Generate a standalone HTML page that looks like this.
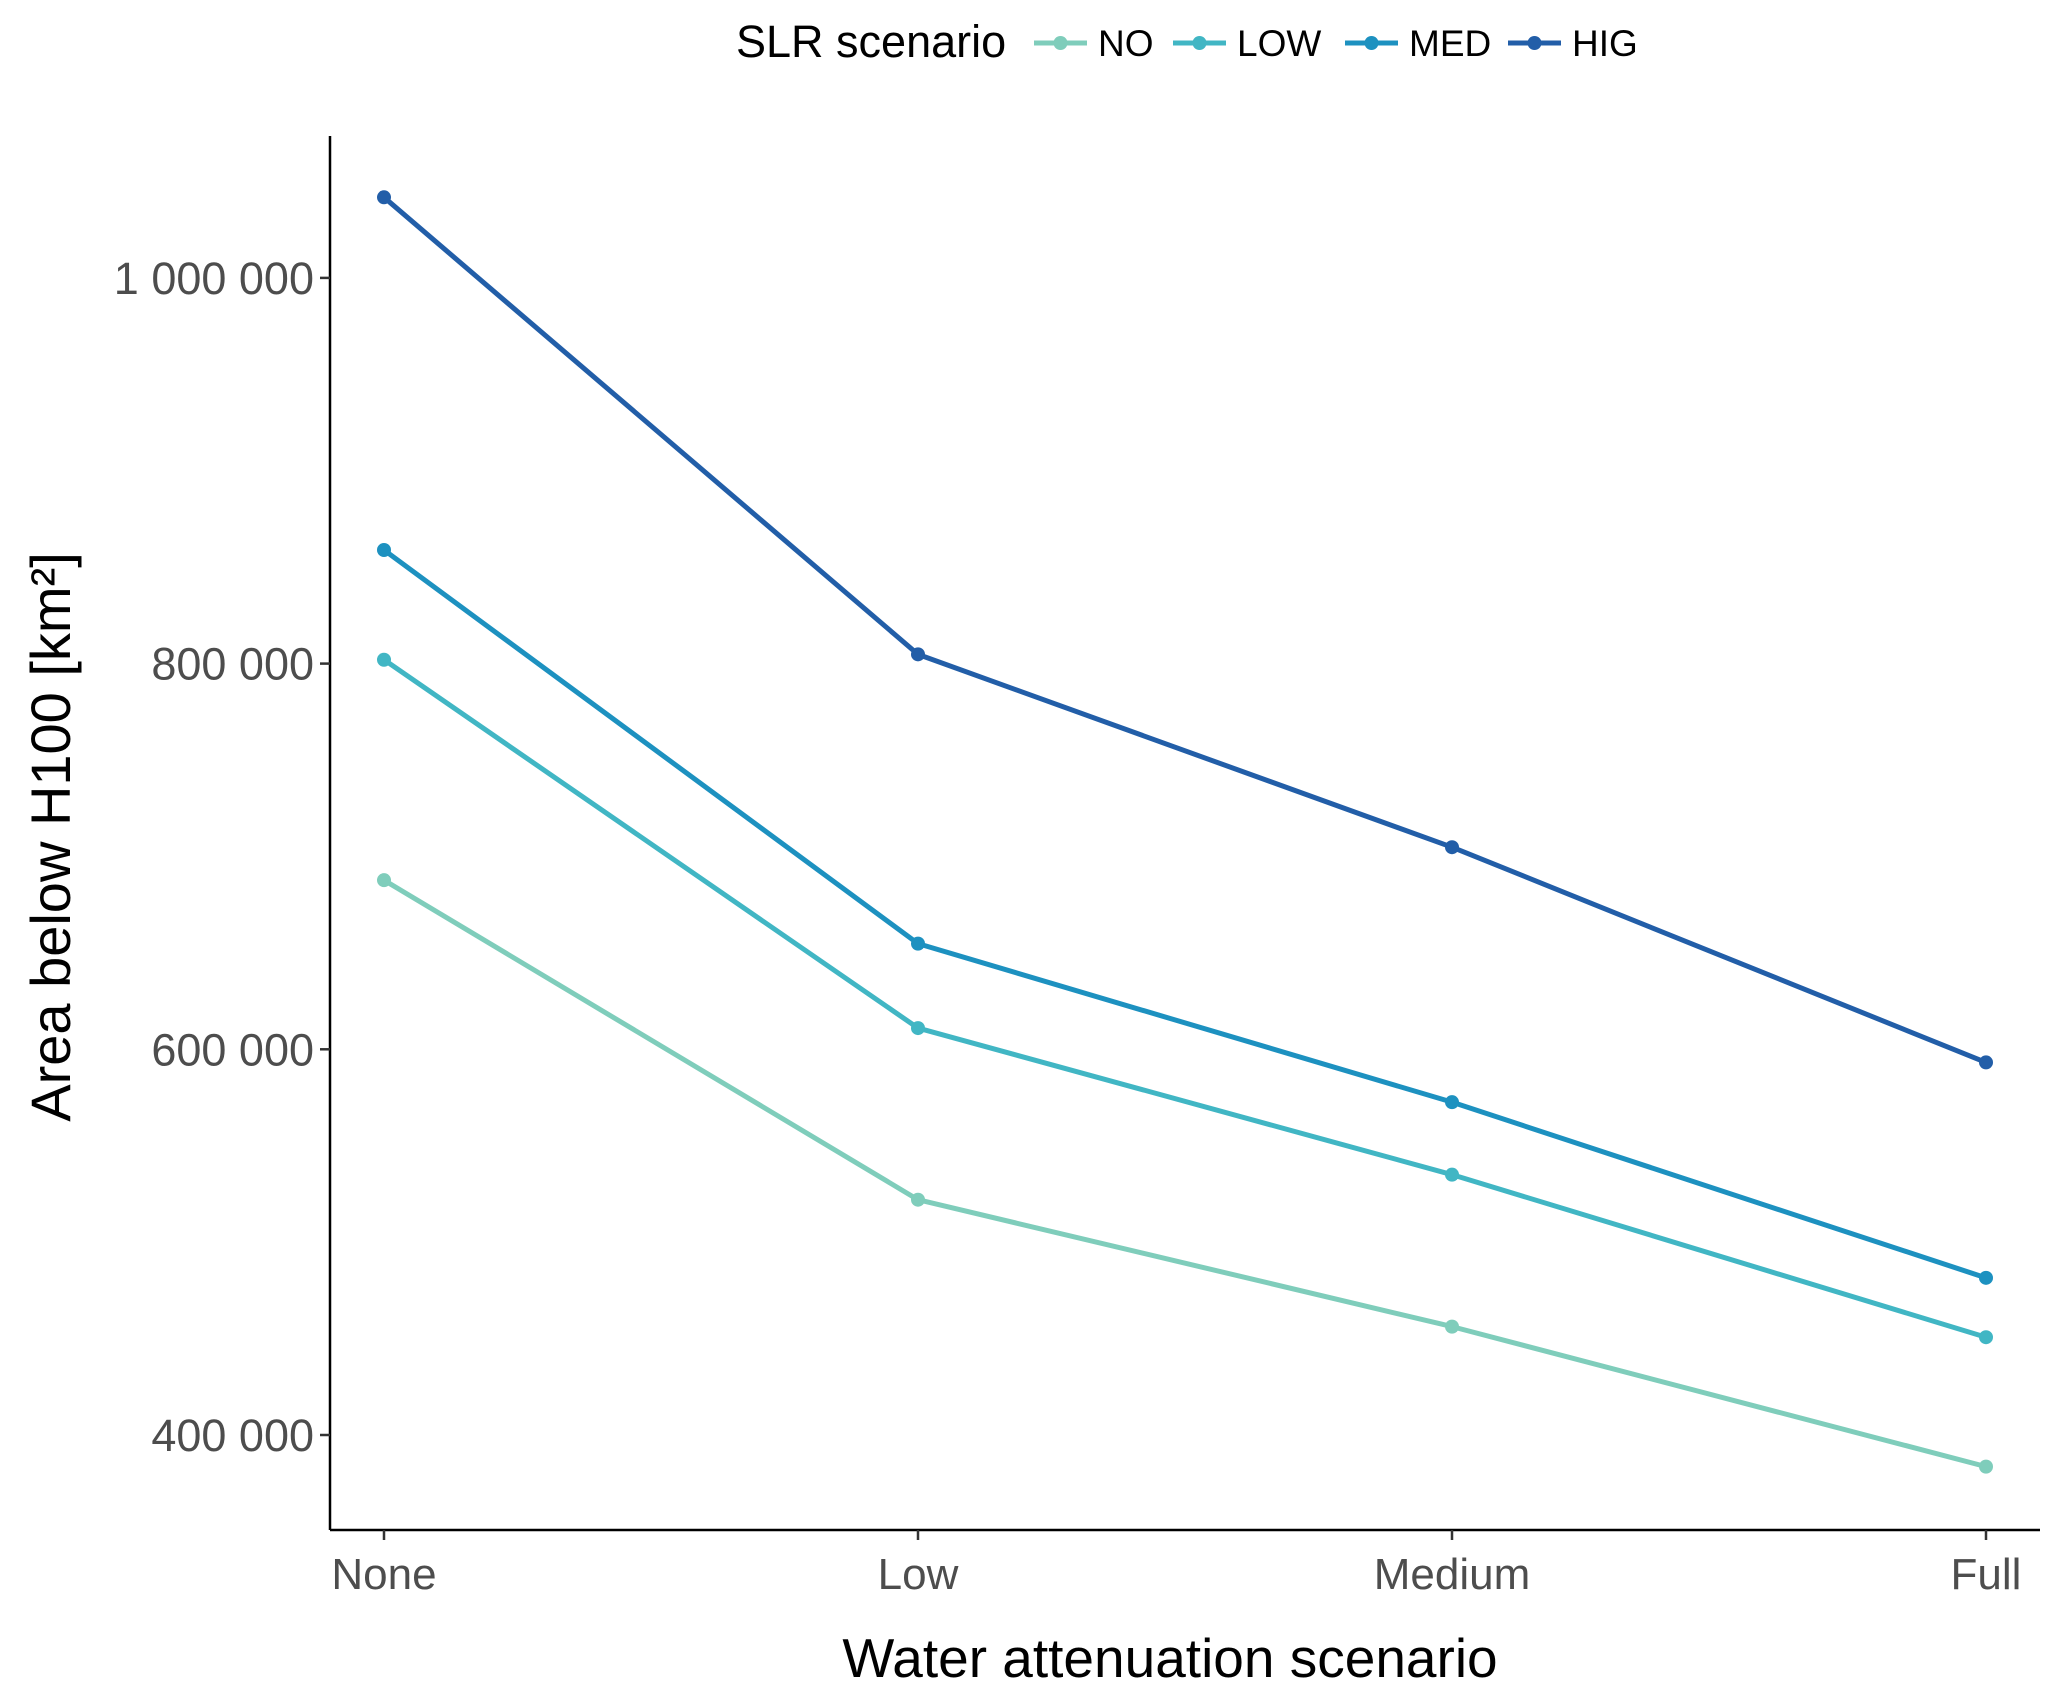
<!DOCTYPE html>
<html><head><meta charset="utf-8"><style>
html,body{margin:0;padding:0;background:#fff;}
svg{display:block;font-family:"Liberation Sans",Arial,sans-serif;}
</style></head><body>
<svg id="chart" width="2067" height="1687" viewBox="0 0 2067 1687">
<g id="legend">
<text x="736" y="57" font-size="45" fill="#000">SLR scenario</text>
</g>
<g id="axes"></g>
<g id="series"></g>
<text x="1170" y="1677" font-size="55" text-anchor="middle" fill="#000">Water attenuation scenario</text>
<text transform="translate(70,837) rotate(-90)" font-size="56" text-anchor="middle" fill="#000">Area below H100 [km²]</text>
</svg>
<script>
const categories = ["None","Low","Medium","Full"];
const seriesNames = ["NO","LOW","MED","HIG"];
const valsNO  = [687700, 522000, 456200, 383600];
const valsLOW = [802000, 611000, 535000, 450700];
const valsMED = [858900, 654800, 572600, 481500];
const valsHIG = [1041800, 804800, 704800, 593200];
const yTicks = [400000, 600000, 800000, 1000000];
const yTickLabels = ["400 000","600 000","800 000","1 000 000"];

const colors = ["#7fcdbb","#41b6c4","#1d91c0","#225ea8"];
const allVals = [valsNO, valsLOW, valsMED, valsHIG];
const NS = "http://www.w3.org/2000/svg";
const L = 330, R = 2040, T = 136, B = 1530;
function xPos(i){ return 384 + i * (1986 - 384) / (categories.length - 1); }
function yPos(v){ return 1435 - (v - 400000) * (385.7 / 200000); }
function mk(tag, attrs, parent){ const e = document.createElementNS(NS, tag); for (const k in attrs) e.setAttribute(k, attrs[k]); parent.appendChild(e); return e; }

const axes = document.getElementById('axes');
const yl = mk('line', {x1:L, y1:T, x2:L, y2:B, stroke:'#000', 'stroke-width':2.5}, axes);


const xl = mk('line', {x1:L, y1:B, x2:R, y2:B, stroke:'#000', 'stroke-width':2.5}, axes);


yTicks.forEach((v, i) => {
  const y = yPos(v);
  const t = mk('line', {x1:L-10, y1:y, x2:L, y2:y, stroke:'#333', 'stroke-width':2.5}, axes);
  
  
  const tx = mk('text', {x:L-16, y:y+16, 'font-size':45, 'text-anchor':'end', fill:'#4d4d4d'}, axes);
  tx.textContent = yTickLabels[i];
  
  
});
categories.forEach((c, i) => {
  const x = xPos(i);
  const t = mk('line', {x1:x, y1:B, x2:x, y2:B+10, stroke:'#333', 'stroke-width':2.5}, axes);
  
  
  const tx = mk('text', {x:x, y:B+59, 'font-size':44, 'text-anchor':'middle', fill:'#4d4d4d'}, axes);
  tx.textContent = c;
  
  
});

const sg = document.getElementById('series');
allVals.forEach((vals, s) => {
  const g = mk('g', {}, sg);
  
  
  const pts = vals.map((v, i) => xPos(i) + ',' + yPos(v)).join(' ');
  const pl = mk('polyline', {points:pts, fill:'none', stroke:colors[s], 'stroke-width':5, 'stroke-linejoin':'round'}, g);
  
  
  vals.forEach((v, i) => {
    const c = mk('circle', {cx:xPos(i), cy:yPos(v), r:7, fill:colors[s]}, g);
    
    
  });
});

const lg = document.getElementById('legend');
const keyX = [1034, 1173, 1345, 1508];
seriesNames.forEach((n, s) => {
  const g = mk('g', {}, lg);
  
  
  mk('line', {x1:keyX[s], y1:43, x2:keyX[s]+53, y2:43, stroke:colors[s], 'stroke-width':5}, g);
  mk('circle', {cx:keyX[s]+26.5, cy:43, r:7, fill:colors[s]}, g);
  const t = mk('text', {x:keyX[s]+64, y:56, 'font-size':37, fill:'#000'}, g);
  t.textContent = n;
});
</script>
</body></html>
